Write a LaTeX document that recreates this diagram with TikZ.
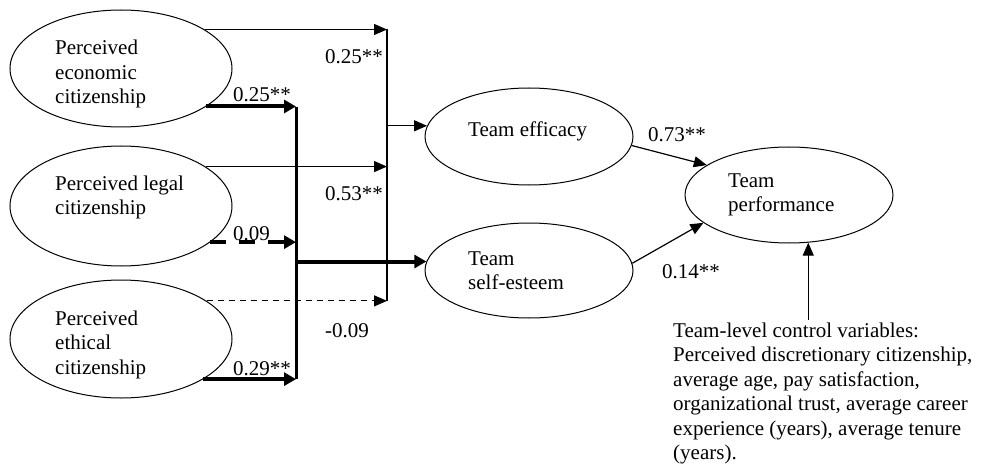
\documentclass[tikz,border=0pt]{standalone}
\usepackage{fontspec}
\setmainfont{Liberation Serif}
\usetikzlibrary{arrows.meta,shapes.geometric}
\newcommand\blk[1]{\begin{tabular}[t]{@{}l@{}}#1\end{tabular}}
\begin{document}
\begin{tikzpicture}[x=1pt,y=-1pt,
  every node/.style={font=\fontsize{21}{24.5}\selectfont},
  ellbig/.style={draw,ellipse,line width=1pt,inner sep=0pt,minimum width=222pt,minimum height=117pt},
  ellsmall/.style={draw,ellipse,line width=1pt,inner sep=0pt,minimum width=208pt,minimum height=96pt},
  txt/.style={anchor=base west,inner sep=0pt},
  thinarr/.style={line width=1.2pt,-{Triangle[length=13pt,width=11pt]}},
  thickarr/.style={line width=4pt,-{Triangle[length=12pt,width=13pt]}},
  thickdash/.style={thickarr,dash pattern=on 16pt off 13pt},
  thindash/.style={thinarr,dash pattern=on 6pt off 5pt},
]
\fill[white] (0,0) rectangle (981,465);
\useasboundingbox (0,0) rectangle (981,465);

% ellipses
\node[ellbig] (e1) at (121,68.5) {};
\node[ellbig,minimum height=120pt] (e2) at (121,206) {};
\node[ellbig,minimum height=118pt] (e3) at (121,339) {};
\node[ellsmall,minimum height=97pt] (eff) at (529,136.5) {};
\node[ellsmall,minimum height=95pt] (se) at (529,270.5) {};
\node[ellsmall] (perf) at (789,195) {};

% texts in ellipses
\node[txt] (t1) at (55,55) {\blk{Perceived\\economic\\citizenship}};
\node[txt] (t2) at (55,190) {\blk{Perceived legal\\citizenship}};
\node[txt] (t3) at (55,325) {\blk{Perceived\\ethical\\citizenship}};
\node[txt] (teff) at (468,137) {Team efficacy};
\node[txt] (tse) at (468,265) {\blk{Team\\self-esteem}};
\node[txt] (tperf) at (728,187) {\blk{Team\\performance}};
\node[txt] (ctl) at (673,337) {\blk{Team-level control variables:\\Perceived discretionary citizenship,\\average age, pay satisfaction,\\organizational trust, average career\\experience (years), average tenure\\(years).}};

% junction coordinates
\coordinate (vkT) at (296,107);
\coordinate (vkB) at (296,379);
\coordinate (vtT) at (387,29);
\coordinate (vtB) at (387,301);

% vertical lines
\draw[line width=3pt] (vkT) -- (vkB);
\draw[line width=1.2pt] (vtT) -- (vtB);

% arrows into thin vertical line
\draw[thinarr] (e1.25.7) -- (e1.25.7 -| vtT);
\draw[thinarr] (e2.25.8) -- (e2.25.8 -| vtT);
\draw[thindash] (e3.24.1) -- (e3.24.1 -| vtT);

% arrows into thick vertical line
\draw[thickarr] (e1.-24.7) -- (e1.-24.7 -| vkT);
\draw[thickdash] (e2.-22.9) -- (e2.-22.9 -| vkT);
\draw[thickarr] (e3.-26.1) -- (e3.-26.1 -| vkT);

% to mediators
\draw[thinarr] (eff.174.7 -| vtT) -- (eff.174.7);
\draw[thickarr] (se.175.8 -| vkT) -- (se.175.8);

% to performance
\draw[thinarr] (eff.-5.8) -- (perf.160.8);
\draw[thinarr] (se.4.1) -- (perf.198);
\draw[thinarr] (perf.-68.1 |- ctl.north) -- (perf.-68.1);

% coefficient labels
\node[txt] (l1) at (325,64) {0.25**};
\node[txt] (l2) at (233,102) {0.25**};
\node[txt] (l3) at (325,200) {0.53**};
\node[txt] (l4) at (233,240) {0.09};
\node[txt] (l5) at (325,337) {-0.09};
\node[txt] (l6) at (233,375) {0.29**};
\node[txt] (l7) at (648,142) {0.73**};
\node[txt] (l8) at (662,278) {0.14**};
\end{tikzpicture}
\end{document}
